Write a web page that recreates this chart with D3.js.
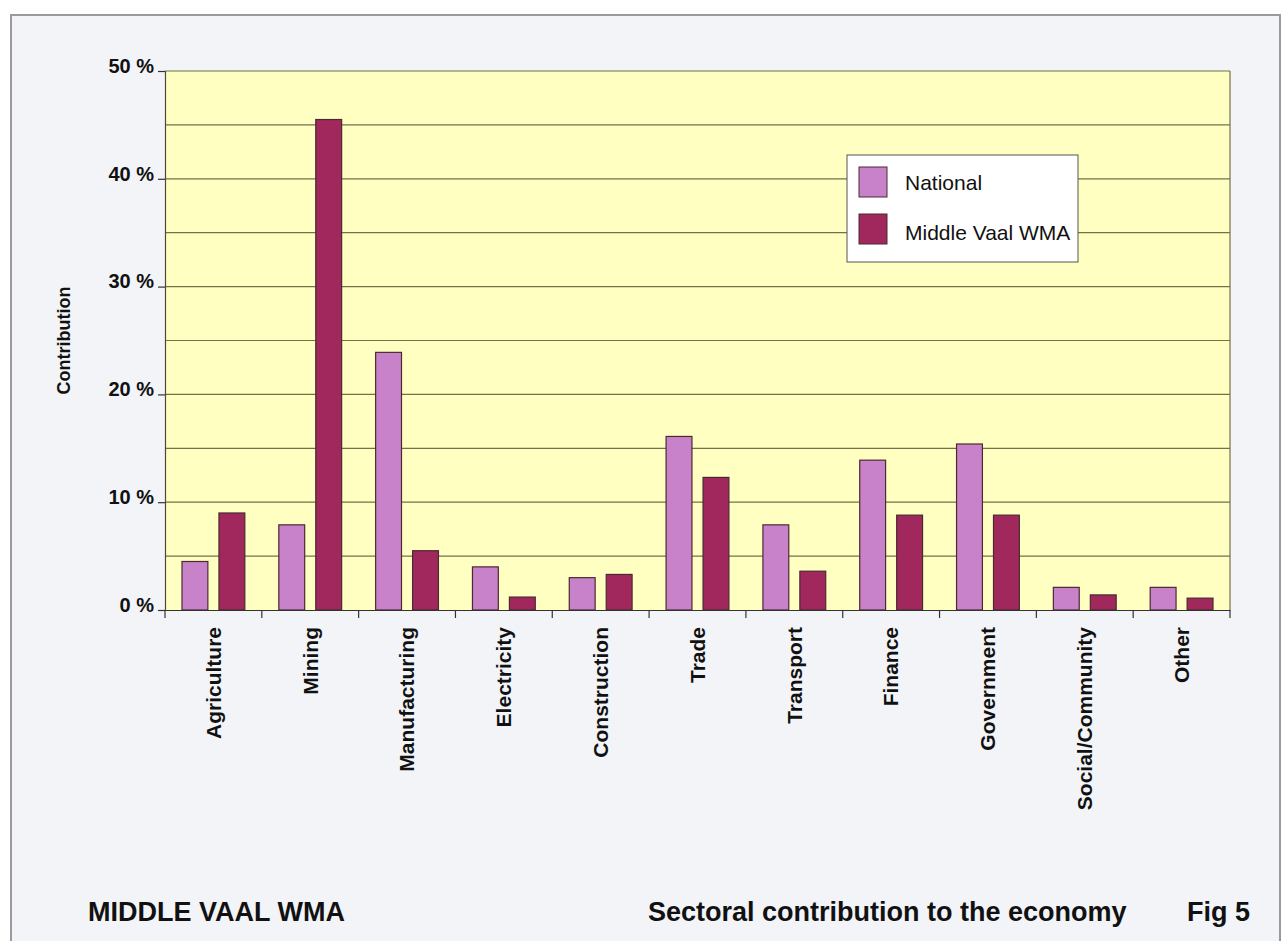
<!DOCTYPE html>
<html>
<head>
<meta charset="utf-8">
<script src="https://cdn.jsdelivr.net/npm/d3@7"></script>
<style>
  body { margin: 0; background: #ffffff; }
  svg { display: block; font-family: "Liberation Sans", Arial, sans-serif; }
</style>
</head>
<body>
<div id="chart"></div>
<script>
const categories = ["Agriculture", "Mining", "Manufacturing", "Electricity", "Construction",
  "Trade", "Transport", "Finance", "Government", "Social/Community", "Other"]
const national = [4.5, 7.9, 23.9, 4.0, 3.0, 16.1, 7.9, 13.9, 15.4, 2.1, 2.1]
const middleVaal = [9.0, 45.5, 5.5, 1.2, 3.3, 12.3, 3.6, 8.8, 8.8, 1.4, 1.1]
const seriesNames = ["National", "Middle Vaal WMA"]
const yTicks = [0, 10, 20, 30, 40, 50]

const W = 1282, H = 941
const plot = { left: 165, right: 1230, top: 71, bottom: 610 }
const colors = { national: "#c882c9", middle: "#a0285c", outline: "#4a2a30" }

const svg = d3.select("#chart").append("svg")
  .attr("width", W).attr("height", H)

// page panel
svg.append("rect")
  .attr("x", 11).attr("y", 15).attr("width", W - 13).attr("height", H)
  .attr("fill", "#f2f4f8").attr("stroke", "#9a9a9a").attr("stroke-width", 2)

const x = d3.scaleBand().domain(categories).range([plot.left, plot.right]).padding(0)
const inner = d3.scaleBand().domain(seriesNames).range([17, x.bandwidth() - 17]).paddingInner(0.3)
const y = d3.scaleLinear().domain([0, 50]).range([plot.bottom, plot.top])

// plot background
svg.append("rect")
  .attr("x", plot.left).attr("y", plot.top)
  .attr("width", plot.right - plot.left).attr("height", plot.bottom - plot.top)
  .attr("fill", "#ffffc2")

// gridlines every 5%
svg.append("g").selectAll("line")
  .data(d3.range(5, 51, 5))
  .join("line")
  .attr("x1", plot.left).attr("x2", plot.right)
  .attr("y1", d => y(d)).attr("y2", d => y(d))
  .attr("stroke", "#73704a").attr("stroke-width", 1.2)

// right border of plot
svg.append("line")
  .attr("x1", plot.right).attr("x2", plot.right)
  .attr("y1", plot.top).attr("y2", plot.bottom)
  .attr("stroke", "#73704a").attr("stroke-width", 1.2)

// bars
const rows = categories.map((c, i) => ({ cat: c, vals: [national[i], middleVaal[i]] }))
const groups = svg.append("g").selectAll("g")
  .data(rows).join("g")
  .attr("transform", d => `translate(${x(d.cat)},0)`)

groups.selectAll("rect")
  .data(d => d.vals.map((v, k) => ({ name: seriesNames[k], v })))
  .join("rect")
  .attr("x", d => inner(d.name))
  .attr("width", inner.bandwidth())
  .attr("y", d => y(d.v))
  .attr("height", d => y(0) - y(d.v))
  .attr("fill", d => d.name === "National" ? colors.national : colors.middle)
  .attr("stroke", colors.outline).attr("stroke-width", 1.2)

// y axis
const yAxis = svg.append("g")
  .attr("transform", `translate(${plot.left},0)`)
  .call(d3.axisLeft(y).tickValues(yTicks).tickSize(7).tickPadding(4).tickFormat(d => d + " %"))
yAxis.select(".domain").attr("stroke", "#4a4a3a").attr("stroke-width", 1.2)
yAxis.selectAll(".tick line").attr("stroke", "#333").attr("stroke-width", 1.2)
yAxis.selectAll("text")
  .attr("font-size", 20).attr("font-weight", "bold").attr("fill", "#111")
  .attr("dy", "0.06em")

// x axis with ticks at band boundaries
const xAxis = svg.append("g")
  .attr("transform", `translate(0,${plot.bottom})`)
  .call(d3.axisBottom(x).tickSize(0).tickPadding(0))
xAxis.select(".domain").attr("stroke", "#333").attr("stroke-width", 1.2)
xAxis.selectAll("text")
  .attr("transform", "rotate(-90)")
  .attr("x", -17).attr("y", 0).attr("dy", "0.35em")
  .attr("text-anchor", "end")
  .attr("font-size", 21).attr("font-weight", "bold").attr("fill", "#111")
xAxis.append("g").selectAll("line")
  .data(d3.range(categories.length + 1))
  .join("line")
  .attr("x1", i => plot.left + i * x.step()).attr("x2", i => plot.left + i * x.step())
  .attr("y1", 0).attr("y2", 8)
  .attr("stroke", "#333").attr("stroke-width", 1.2)

// y axis title
svg.append("text")
  .attr("transform", `translate(70,${(plot.top + plot.bottom) / 2}) rotate(-90)`)
  .attr("text-anchor", "middle")
  .attr("font-size", 18).attr("font-weight", "bold").attr("fill", "#111")
  .text("Contribution")

// legend
const lg = svg.append("g").attr("transform", "translate(847,155)")
lg.append("rect").attr("width", 231).attr("height", 107)
  .attr("fill", "#ffffff").attr("stroke", "#555").attr("stroke-width", 1)
seriesNames.forEach((s, k) => {
  lg.append("rect")
    .attr("x", 12).attr("y", 12 + k * 47).attr("width", 28).attr("height", 30)
    .attr("fill", k === 0 ? colors.national : colors.middle)
    .attr("stroke", colors.outline).attr("stroke-width", 1)
  lg.append("text")
    .attr("x", 58).attr("y", 35 + k * 50)
    .attr("font-size", 21).attr("fill", "#111")
    .text(s)
})

// footer
const footer = [
  { text: "MIDDLE VAAL WMA", x: 88 },
  { text: "Sectoral contribution to the economy", x: 648 },
  { text: "Fig 5", x: 1187 }
]
svg.append("g").selectAll("text")
  .data(footer).join("text")
  .attr("x", d => d.x).attr("y", 921)
  .attr("font-size", 27).attr("font-weight", "bold").attr("fill", "#111")
  .text(d => d.text)
</script>
</body>
</html>
